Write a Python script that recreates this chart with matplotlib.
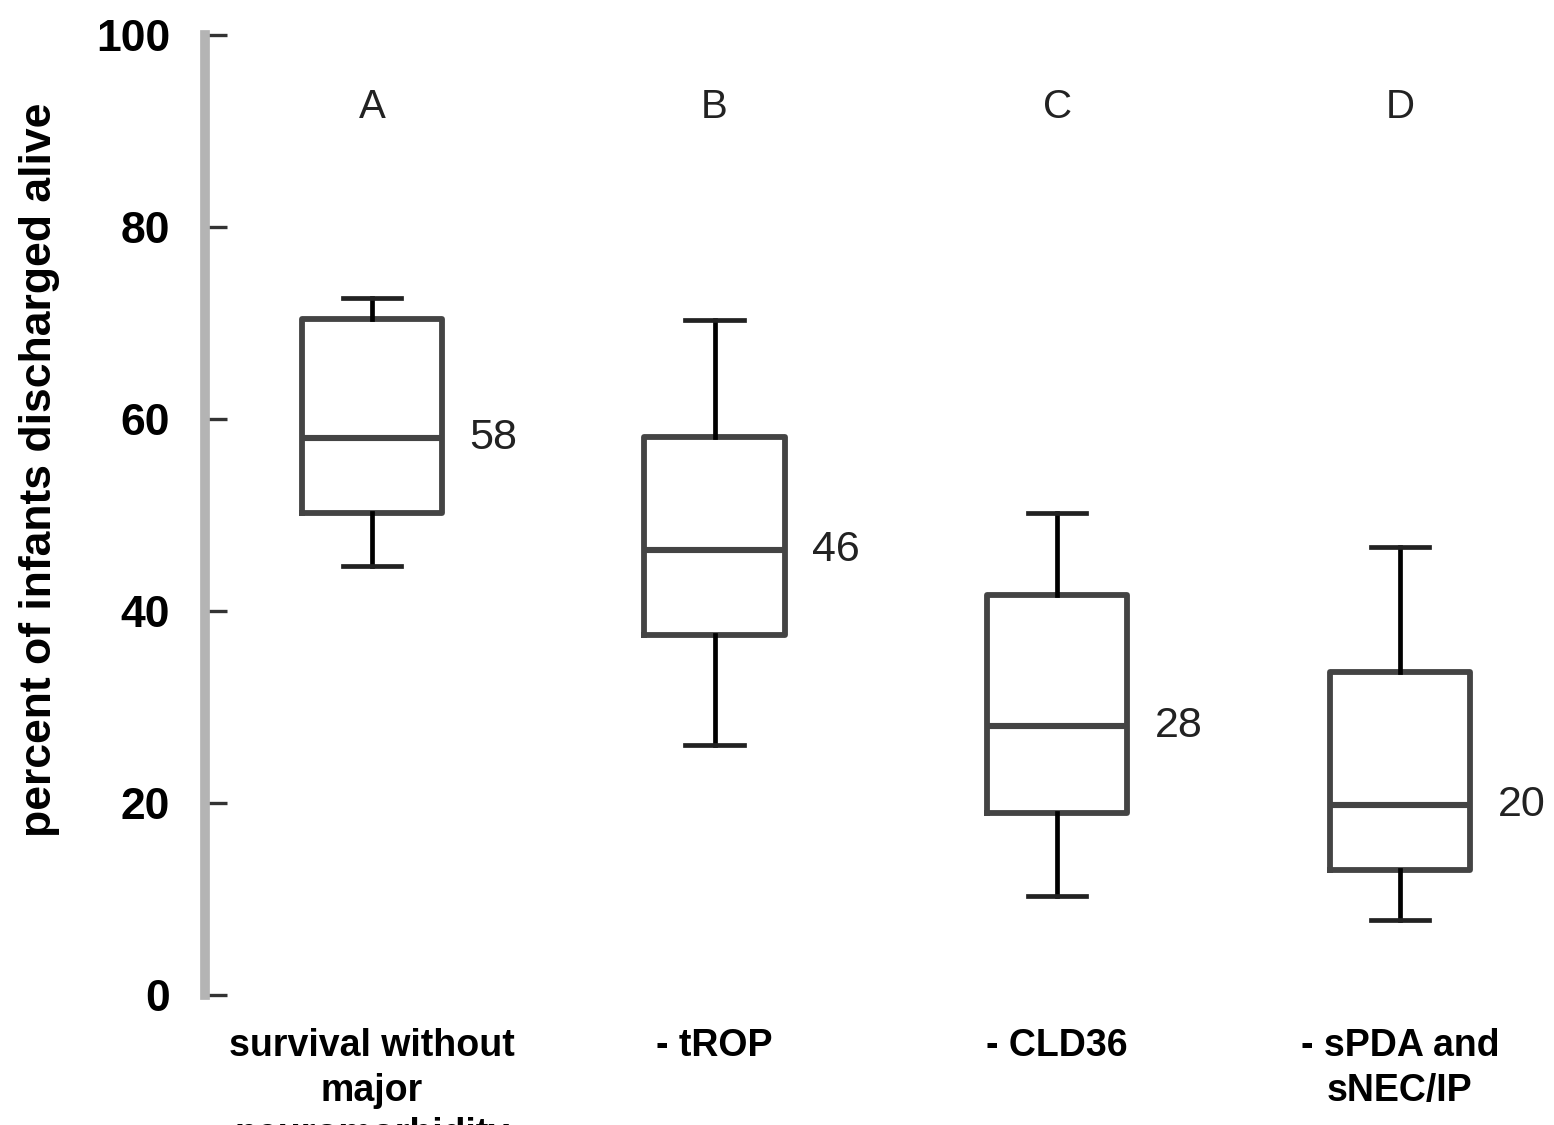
import numpy as np
import matplotlib.pyplot as plt

plt.rcParams['font.family'] = ['Liberation Sans', 'DejaVu Sans']

groups = ["A", "B", "C", "D"]
cat_labels = ["survival without\nmajor\nneuromorbidity", "- tROP", "- CLD36", "- sPDA and\nsNEC/IP"]
# five-number summaries
whis_lo = [44.7, 26.0, 10.3, 7.8]
q1 = [50.2, 37.5, 19.0, 13.0]
med = [58.0, 46.4, 28.0, 19.8]
q3 = [70.4, 58.1, 41.7, 33.6]
whis_hi = [72.6, 70.3, 50.2, 46.7]
med_text = ["58", "46", "28", "20"]

stats = []
for i in range(4):
    stats.append(dict(whislo=whis_lo[i], q1=q1[i], med=med[i], q3=q3[i], whishi=whis_hi[i], fliers=[]))

fig = plt.figure(figsize=(15.54, 11.25), dpi=100)
ax = fig.add_axes([205/1554, 130/1125, 1 - 205/1554, 960/1125])
pos = np.arange(1, 5)
lc = "#444444"
ax.bxp(stats, positions=pos, widths=0.41, showfliers=False,
       boxprops=dict(color=lc, linewidth=4.2),
       medianprops=dict(color=lc, linewidth=4.4),
       whiskerprops=dict(color="black", linewidth=3.4),
       capprops=dict(color="#222222", linewidth=3.4),
       capwidths=0.17)

for i in range(4):
    ax.text(pos[i], 92.5, groups[i], ha="center", va="center", fontsize=29, color="#222")
    ax.text(pos[i] + 0.285, med[i], med_text[i], ha="left", va="center", fontsize=31, color="#222")

ax.set_xlim(0.513, 4.45)
ax.set_ylim(0, 100)
ax.set_yticks([0, 20, 40, 60, 80, 100])
ax.set_yticklabels(["0", "20", "40", "60", "80", "100"], fontsize=32, fontweight="bold")
ax.set_xticks(pos)
ax.set_xticklabels(cat_labels, fontsize=27, fontweight="bold", va="top", linespacing=1.3)
ax.tick_params(axis="x", length=0, pad=24)
ax.tick_params(axis="y", direction="in", length=16, width=2.4, color="#333", pad=25)
for s in ["top", "right", "bottom"]:
    ax.spines[s].set_visible(False)
ax.spines["left"].set_color("#b4b4b4")
ax.spines["left"].set_linewidth(7)
fig.text(40/1554, 1 - 470/1125, "percent of infants discharged alive", rotation=90,
         ha="center", va="center", fontsize=32, fontweight="bold")

fig.savefig("out.png", dpi=100)
